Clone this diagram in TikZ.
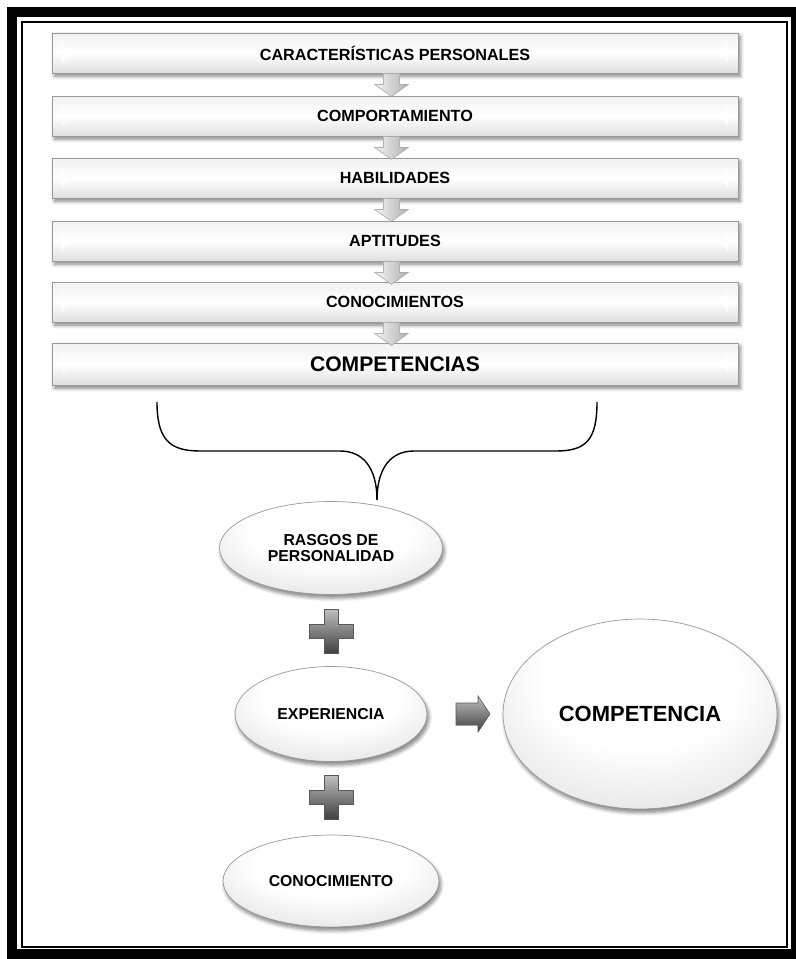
\documentclass[tikz,border=0pt]{standalone}
\usepackage{fontspec}
\setmainfont{Liberation Sans}
\usetikzlibrary{shapes.geometric, calc, shadows.blur}
\pgfdeclareverticalshading{barshade}{100bp}{color(0bp)=(gray!75); color(12bp)=(gray!38); color(50bp)=(white); color(84bp)=(gray!15); color(100bp)=(gray!68)}
\pgfdeclareradialshading{ovalshade}{\pgfpoint{0bp}{14bp}}{color(0bp)=(white); color(18bp)=(white); color(36bp)=(gray!24); color(45bp)=(gray!50); color(50bp)=(gray!72)}

\begin{document}
\begin{tikzpicture}[x=0.02cm, y=-0.02cm,
  bar/.style={rectangle, minimum width=13.72cm, minimum height=0.8cm, shading=barshade, draw=gray!80, line width=0.4pt,
    blur shadow={shadow xshift=1.4pt, shadow yshift=-1.8pt, shadow blur steps=5, shadow opacity=50},
    font=\bfseries\fontsize{9.2}{10}\selectfont,
    path picture={
      \fill[white, opacity=.85] ($(path picture bounding box.west)+(5.5pt,6pt)$) -- ++(4.5pt,-6pt) -- ++(-4.5pt,-6pt) -- cycle;
      \fill[white, opacity=.85] ($(path picture bounding box.east)+(-5.5pt,6pt)$) -- ++(-4.5pt,-6pt) -- ++(4.5pt,-6pt) -- cycle;}},
  oval/.style={ellipse, shading=ovalshade, draw=gray!80, line width=0.4pt, align=center,
    blur shadow={shadow xshift=1pt, shadow yshift=-2pt, shadow blur steps=6, shadow opacity=50},
    font=\bfseries\fontsize{9}{9.6}\selectfont},
  lightshape/.style={left color=gray!8, right color=gray!62, draw=gray!60, line width=0.3pt},
  darkshape/.style={top color=gray!50, bottom color=black!75, draw=black!65, line width=0.3pt},
  downarr/.pic={\fill[lightshape] (-8,0) -- (8,0) -- (8,11) -- (17,11) -- (0,23) -- (-17,11) -- (-8,11) -- cycle;},
  rightarr/.pic={\fill[darkshape] (-17,-11) -- (5,-11) -- (5,-18) -- (17,0) -- (5,18) -- (5,11) -- (-17,11) -- cycle;},
  plussign/.pic={\fill[darkshape] (-7,-22) -- (7,-22) -- (7,-7) -- (22,-7) -- (22,7) -- (7,7) -- (7,22) -- (-7,22) -- (-7,7) -- (-22,7) -- (-22,-7) -- (-7,-7) -- cycle;}]
  \useasboundingbox (0,0) rectangle (795,959);

  % marco doble
  \draw[line width=5.8pt] (12,12) rectangle (796,954);
  \draw[line width=1.5pt] (22,22) rectangle (787,947);

  % barras superiores
  \node[bar] (b1) at (395,53) {CARACTERÍSTICAS PERSONALES};
  \node[bar] (b2) at (395,116) {COMPORTAMIENTO};
  \node[bar] (b3) at (395,178) {HABILIDADES};
  \node[bar] (b4) at (395,241) {APTITUDES};
  \node[bar] (b5) at (395,302) {CONOCIMIENTOS};
  \node[bar, minimum height=0.84cm, font=\bfseries\fontsize{12}{13}\selectfont] (b6) at (395,364) {COMPETENCIAS};

  % flechas entre barras
  \foreach \b in {b1,b2,b3,b4,b5}
    \pic at ([xshift=-2pt]\b.south) {downarr};

  % llave
  \coordinate (kl) at (157,402);
  \coordinate (kr) at (597,402);
  \coordinate (kt) at (377,500);
  \draw[line width=0.8pt] (kl) .. controls (157,440) and (170,451) .. (200,451) -- (340,451)
    .. controls (368,451) and (377,475) .. (kt);
  \draw[line width=0.8pt] (kt) .. controls (377,475) and (386,451) .. (414,451) -- (556,451)
    .. controls (586,451) and (597,440) .. (kr);

  % elipses
  \node[oval, minimum width=4.46cm, minimum height=1.86cm] (rasgos) at (331,548) {RASGOS DE\\PERSONALIDAD};
  \node[oval, minimum width=3.84cm, minimum height=1.9cm] (exper) at (331,714) {EXPERIENCIA};
  \node[oval, minimum width=4.32cm, minimum height=1.84cm] (conoc) at (331,881) {CONOCIMIENTO};
  \node[oval, minimum width=5.48cm, minimum height=3.8cm, font=\bfseries\fontsize{12.5}{14}\selectfont] (compet) at (640,714) {COMPETENCIA};

  % signos y flecha
  \pic at (331,631) {plussign};
  \pic at (331,797) {plussign};
  \pic at (473,714) {rightarr};
\end{tikzpicture}
\end{document}
